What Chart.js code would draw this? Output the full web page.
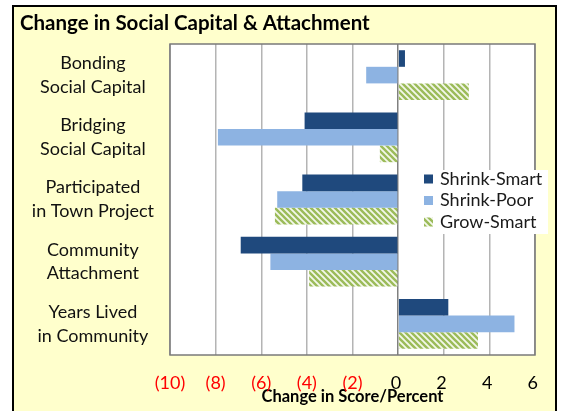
<!DOCTYPE html>
<html>
<head>
<meta charset="utf-8">
<script src="https://cdn.jsdelivr.net/npm/chart.js@4"></script>
<style>
  html, body { margin: 0; padding: 0; background: #fff; width: 567px; height: 411px; overflow: hidden; }
  #frame { position: absolute; left: 12px; top: 5px; width: 541px; height: 420px; border: 2px solid #000; background: #FFFFCC; }
  #wrap { position: relative; width: 541px; height: 404px; }
</style>
</head>
<body>
<div id="frame"><div id="wrap"><canvas id="chart"></canvas></div></div>
<script>
const categories = [
  ["Bonding", "Social Capital"],
  ["Bridging", "Social Capital"],
  ["Participated", "in Town Project"],
  ["Community", "Attachment"],
  ["Years Lived", "in Community"],
];
const seriesNames = ["Shrink-Smart", "Shrink-Poor", "Grow-Smart"];
const shrinkSmart = [0.3, -4.1, -4.2, -6.9, 2.2];
const shrinkPoor = [-1.4, -7.9, -5.3, -5.6, 5.1];
const growSmart = [3.1, -0.8, -5.4, -3.9, 3.5];
const xMin = -10;
const xMax = 6;
const xStep = 2;

const FONT = 'Lato, "Open Sans", sans-serif';

function hatch() {
  const c = document.createElement("canvas");
  c.width = 6;
  c.height = 6;
  const g = c.getContext("2d");
  g.fillStyle = "#F3F7EA";
  g.fillRect(0, 0, 6, 6);
  g.strokeStyle = "#9BBB59";
  g.lineWidth = 2.4;
  for (const k of [-6, 0, 6]) {
    g.beginPath();
    g.moveTo(-1, k - 1);
    g.lineTo(7, k + 7);
    g.stroke();
  }
  return g.createPattern(c, "repeat");
}

const plotFrame = {
  id: "plotFrame",
  beforeDraw(chart) {
    const { ctx, chartArea: a } = chart;
    ctx.save();
    ctx.fillStyle = "#fff";
    ctx.fillRect(a.left, a.top, a.right - a.left, a.bottom - a.top);
    ctx.restore();
  },
  afterDraw(chart) {
    const { ctx, chartArea: a } = chart;
    ctx.save();
    ctx.strokeStyle = "#7a7a7a";
    ctx.lineWidth = 1.5;
    ctx.strokeRect(a.left, a.top, a.right - a.left, a.bottom - a.top);

    // legend box inside the plot, like the original
    const bx = 398, by = 163, bw = 136, bh = 64;
    ctx.fillStyle = "#fff";
    ctx.fillRect(bx, by, bw, bh);
    ctx.font = `18px ${FONT}`;
    ctx.textBaseline = "middle";
    ctx.textAlign = "left";
    chart.data.datasets.forEach((ds, i) => {
      const cy = by + 9 + i * 21.5;
      ctx.fillStyle = ds.backgroundColor;
      ctx.fillRect(bx + 12, cy - 4.5, 9, 9);
      ctx.fillStyle = "#1a1a1a";
      ctx.fillText(ds.label, bx + 28, cy);
    });
    ctx.restore();
  },
};

const chart = new Chart(document.getElementById("chart"), {
  type: "bar",
  data: {
    labels: categories,
    datasets: [
      { label: seriesNames[0], data: shrinkSmart, backgroundColor: "#1F497D" },
      { label: seriesNames[1], data: shrinkPoor, backgroundColor: "#8DB3E2" },
      { label: seriesNames[2], data: growSmart, backgroundColor: hatch() },
    ],
  },
  options: {
    indexAxis: "y",
    responsive: true,
    maintainAspectRatio: false,
    animation: false,
    categoryPercentage: 0.8,
    barPercentage: 1.0,
    layout: { padding: { left: 6, right: 20, top: 0, bottom: 0 } },
    plugins: {
      legend: { display: false },
      tooltip: { enabled: false },
      title: {
        display: true,
        text: "Change in Social Capital & Attachment",
        align: "start",
        color: "#000",
        font: { family: FONT, size: 20.5, weight: "bold" },
        padding: { top: 3.7, bottom: 8.7 },
      },
    },
    scales: {
      x: {
        min: xMin,
        max: xMax,
        afterFit: (s) => { s.height = 56; s.paddingLeft = 0; s.paddingRight = 0; },
        grid: {
          drawTicks: false,
          color: (c) => (c.tick && c.tick.value === 0 ? "#808080" : "#b4b4b4"),
          lineWidth: 1.5,
        },
        border: { display: false },
        ticks: {
          stepSize: xStep,
          padding: 17,
          font: { family: FONT, size: 18 },
          color: (c) => (c.tick.value < 0 ? "#FF0000" : "#000"),
          callback: (v) => (v < 0 ? `(${-v})` : `${v}\u2005`),
        },
        title: {
          display: true,
          text: "Change in Score/Percent",
          color: "#000",
          font: { family: FONT, size: 16.5, weight: "bold" },
          padding: { top: 0, bottom: 4 },
        },
      },
      y: {
        afterFit: (s) => { s.width = 150; s.paddingTop = 0; s.paddingBottom = 0; },
        grid: { display: false },
        border: { display: false },
        ticks: {
          crossAlign: "center",
          padding: 8,
          color: "#111",
          font: { family: FONT, size: 18, lineHeight: 1.33 },
        },
      },
    },
  },
  plugins: [plotFrame],
});
</script>
</body>
</html>
